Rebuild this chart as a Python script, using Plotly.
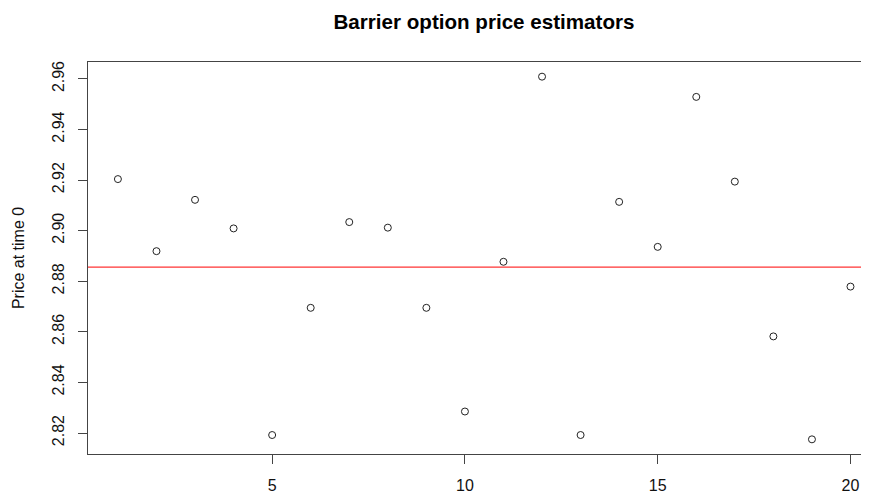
import plotly.graph_objects as go

# Data
run_index = list(range(1, 21))
price_estimates = [2.9204, 2.8919, 2.9122, 2.9009, 2.8192, 2.8695, 2.9034, 2.9012, 2.8695, 2.8285,
                   2.8877, 2.9609, 2.8192, 2.9114, 2.8936, 2.9529, 2.9194, 2.8582, 2.8175, 2.8779]
mean_price = 2.8856
x_ticks = [5, 10, 15, 20]
y_ticks = [2.82, 2.84, 2.86, 2.88, 2.90, 2.92, 2.94, 2.96]
y_tick_labels = ["2.82", "2.84", "2.86", "2.88", "2.90", "2.92", "2.94", "2.96"]

FONT = "Liberation Sans, Arial, Helvetica, sans-serif"
AXIS_COLOR = "#444444"

# the page body has an 8px default margin, so the figure is sized to end at the window edge
FIG_W, FIG_H = 861, 487

fig = go.Figure()
fig.add_trace(go.Scatter(
    x=run_index, y=price_estimates, mode="markers",
    marker=dict(symbol="circle-open", size=7, color="#222222", line=dict(width=1, color="#222222")),
    showlegend=False, hoverinfo="x+y",
))
fig.add_hline(y=mean_price, line=dict(color="#ff0000", width=1))

fig.update_layout(
    width=FIG_W, height=FIG_H,
    margin=dict(l=80, r=0, t=54, b=41),
    paper_bgcolor="white", plot_bgcolor="white",
    font=dict(family=FONT, size=16, color="#111111"),
    title=dict(text="<b>Barrier option price estimators</b>", x=0.507, xref="paper",
               y=1 - 13.7 / FIG_H, yref="container", xanchor="center", yanchor="middle",
               font=dict(family=FONT, size=20.6, color="#000000")),
)
fig.update_xaxes(
    range=[0.224, 20.48], tickvals=x_ticks, ticktext=[str(v) for v in x_ticks],
    showgrid=False, zeroline=False, showline=True, linecolor=AXIS_COLOR, linewidth=1, mirror=True,
    ticks="outside", ticklen=9, tickcolor=AXIS_COLOR, tickwidth=1, ticklabelstandoff=8,
    tickfont=dict(size=16, color="#111111"),
)
fig.update_yaxes(
    range=[2.8117, 2.9667], tickvals=y_ticks, ticktext=y_tick_labels, tickangle=-90,
    showgrid=False, zeroline=False, showline=True, linecolor=AXIS_COLOR, linewidth=1,
    ticks="outside", ticklen=9, tickcolor=AXIS_COLOR, tickwidth=1, ticklabelstandoff=8,
    tickfont=dict(size=16, color="#111111"),
    title=dict(text="Price at time 0", standoff=20, font=dict(size=16, color="#111111")),
)

fig.write_html("out.html")
